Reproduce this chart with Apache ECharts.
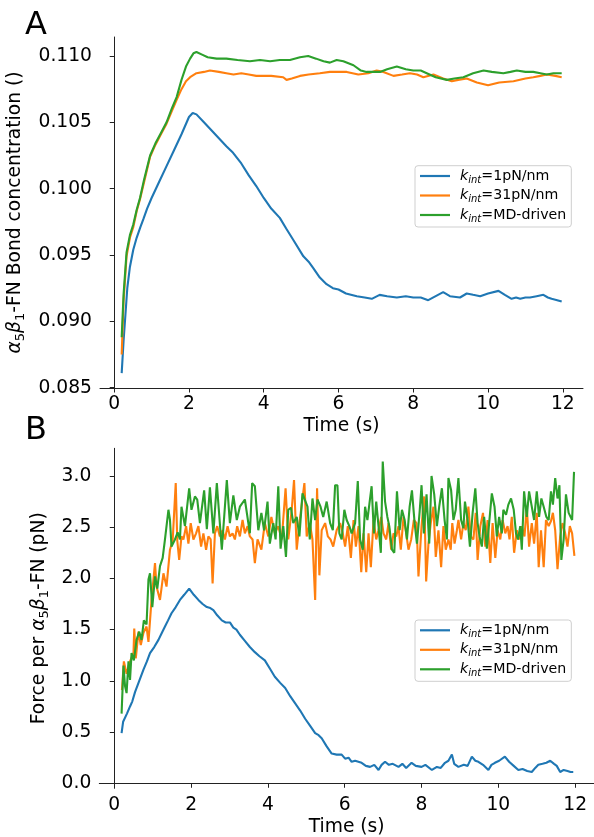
<!DOCTYPE html>
<html><head><meta charset="utf-8">
<script src="https://cdn.jsdelivr.net/npm/echarts@6/dist/echarts.min.js"></script>
<style>html,body{margin:0;padding:0;background:#fff}#c{width:594px;height:837px}</style>
</head><body><div id="c"></div>
<script>
// ---------- labels / ticks ----------
const legendSuffix = ['=1pN/nm', '=31pN/nm', '=MD-driven'];
const colors = ['#1f77b4', '#ff7f0e', '#2ca02c'];
const xTicks = [0, 2, 4, 6, 8, 10, 12];
const yTicksA = [0.085, 0.090, 0.095, 0.100, 0.105, 0.110];
const yTicksB = [0.0, 0.5, 1.0, 1.5, 2.0, 2.5, 3.0];

// ---------- Panel A: bond concentration ----------
const aBlueT = [0.20,0.25,0.30,0.35,0.42,0.51,0.60,0.70,0.78,0.88,1.00,1.20,1.40,1.60,1.80,2.00,2.10,2.20,2.40,2.60,2.80,3.00,3.18,3.40,3.60,3.80,4.00,4.20,4.43,4.60,4.80,5.06,5.20,5.33,5.50,5.68,5.85,6.00,6.20,6.49,6.70,6.89,7.10,7.30,7.56,7.80,8.00,8.20,8.40,8.60,8.80,8.98,9.25,9.43,9.60,9.79,10.00,10.28,10.45,10.63,10.75,10.86,11.00,11.12,11.30,11.48,11.60,11.70,11.85,11.97];
const aBlueV = [0.0861,0.0885,0.0905,0.0925,0.0941,0.0954,0.0963,0.0971,0.0977,0.0985,0.0993,0.1005,0.1017,0.1029,0.1041,0.1054,0.1057,0.1056,0.1050,0.1044,0.1038,0.1032,0.1027,0.1019,0.1010,0.1002,0.0993,0.0985,0.0978,0.0970,0.0961,0.0949,0.0945,0.0940,0.0933,0.0928,0.0925,0.0924,0.0921,0.0919,0.0918,0.0917,0.0920,0.0919,0.0918,0.0919,0.0918,0.0918,0.0916,0.0919,0.0922,0.0919,0.0918,0.0921,0.0920,0.0919,0.0921,0.0923,0.0920,0.0917,0.0918,0.0917,0.0918,0.0918,0.0919,0.0920,0.0918,0.0917,0.0916,0.0915];
const aOrangeT = [0.20,0.25,0.33,0.42,0.51,0.60,0.69,0.80,0.96,1.10,1.25,1.40,1.55,1.67,1.80,1.92,2.03,2.20,2.40,2.56,2.80,3.00,3.19,3.40,3.60,3.80,4.00,4.20,4.52,4.61,4.75,4.97,5.20,5.50,5.77,6.00,6.22,6.53,6.80,7.02,7.20,7.47,7.70,7.91,8.10,8.27,8.54,8.80,9.03,9.20,9.43,9.70,10.00,10.30,10.68,11.00,11.21,11.40,11.57,11.80,11.97];
const aOrangeV = [0.0875,0.0915,0.0949,0.0963,0.0971,0.0983,0.0992,0.1005,0.1024,0.1033,0.1041,0.1049,0.1059,0.1067,0.1075,0.1081,0.1084,0.1087,0.1088,0.1089,0.1088,0.1087,0.1086,0.1087,0.1086,0.1085,0.1085,0.1085,0.1084,0.1082,0.1083,0.1085,0.1086,0.1087,0.1088,0.1088,0.1088,0.1086,0.1087,0.1089,0.1088,0.1085,0.1086,0.1087,0.1086,0.1084,0.1086,0.1083,0.1081,0.1082,0.1083,0.1080,0.1078,0.1080,0.1081,0.1083,0.1084,0.1085,0.1086,0.1085,0.1084];
const aGreenT = [0.20,0.25,0.33,0.42,0.51,0.60,0.69,0.80,0.96,1.10,1.25,1.40,1.55,1.67,1.80,1.92,2.03,2.12,2.20,2.35,2.50,2.74,3.00,3.30,3.63,3.90,4.17,4.43,4.70,4.97,5.19,5.40,5.60,5.77,5.95,6.13,6.40,6.60,6.75,6.95,7.11,7.30,7.56,7.80,8.00,8.20,8.36,8.60,8.90,9.10,9.34,9.60,9.88,10.10,10.41,10.60,10.77,11.00,11.21,11.40,11.57,11.75,11.97];
const aGreenV = [0.0888,0.0920,0.0952,0.0965,0.0973,0.0984,0.0993,0.1007,0.1025,0.1034,0.1042,0.1050,0.1061,0.1069,0.1082,0.1092,0.1098,0.1102,0.1103,0.1101,0.1099,0.1098,0.1098,0.1097,0.1096,0.1097,0.1096,0.1097,0.1097,0.1099,0.1100,0.1098,0.1096,0.1095,0.1097,0.1096,0.1093,0.1089,0.1088,0.1088,0.1088,0.1090,0.1092,0.1090,0.1089,0.1089,0.1087,0.1084,0.1082,0.1083,0.1084,0.1087,0.1089,0.1088,0.1087,0.1088,0.1089,0.1088,0.1088,0.1087,0.1086,0.1087,0.1087];

// ---------- Panel B: force per bond ----------
const bBlueT = [0.19,0.23,0.27,0.33,0.41,0.47,0.54,0.65,0.76,0.85,0.93,1.04,1.15,1.24,1.32,1.40,1.49,1.60,1.71,1.82,1.95,2.07,2.19,2.30,2.41,2.50,2.58,2.68,2.80,2.90,3.01,3.10,3.18,3.27,3.40,3.53,3.66,3.78,3.92,4.05,4.18,4.32,4.45,4.58,4.71,4.84,4.97,5.10,5.23,5.32,5.40,5.53,5.66,5.79,5.92,6.01,6.10,6.18,6.27,6.44,6.55,6.66,6.77,6.88,6.96,7.05,7.15,7.25,7.40,7.50,7.60,7.74,7.85,8.00,8.10,8.27,8.40,8.50,8.61,8.70,8.79,8.85,8.96,9.10,9.20,9.31,9.40,9.48,9.60,9.74,9.82,9.91,10.02,10.17,10.28,10.40,10.52,10.63,10.75,10.87,10.96,11.04,11.15,11.25,11.35,11.45,11.52,11.61,11.70,11.80,11.88,11.95];
const bBlueV = [0.49,0.60,0.61,0.68,0.75,0.80,0.89,1.00,1.11,1.19,1.27,1.33,1.40,1.47,1.53,1.59,1.66,1.72,1.79,1.84,1.90,1.84,1.79,1.75,1.72,1.71,1.69,1.64,1.59,1.57,1.57,1.52,1.50,1.45,1.39,1.33,1.28,1.24,1.20,1.12,1.04,0.98,0.93,0.85,0.78,0.71,0.63,0.56,0.49,0.47,0.44,0.36,0.29,0.28,0.28,0.24,0.25,0.21,0.22,0.20,0.17,0.16,0.18,0.13,0.18,0.21,0.18,0.19,0.16,0.19,0.15,0.20,0.17,0.16,0.18,0.13,0.16,0.15,0.20,0.22,0.28,0.19,0.16,0.18,0.17,0.26,0.22,0.21,0.18,0.13,0.18,0.20,0.22,0.26,0.21,0.17,0.13,0.14,0.12,0.11,0.15,0.18,0.19,0.20,0.22,0.19,0.17,0.11,0.13,0.12,0.11,0.11];
const bOrangeT = [0.20,0.25,0.32,0.41,0.50,0.52,0.56,0.63,0.69,0.76,0.84,0.89,0.97,1.06,1.10,1.19,1.28,1.36,1.45,1.52,1.60,1.64,1.69,1.75,1.80,1.87,1.93,1.99,2.06,2.13,2.19,2.26,2.32,2.39,2.45,2.51,2.56,2.62,2.68,2.75,2.82,2.88,2.95,3.01,3.08,3.14,3.20,3.27,3.34,3.40,3.47,3.53,3.60,3.66,3.73,3.83,3.92,4.01,4.09,4.18,4.27,4.36,4.46,4.53,4.62,4.68,4.75,4.83,4.95,5.01,5.09,5.16,5.23,5.28,5.34,5.40,5.49,5.56,5.63,5.70,5.79,5.88,5.95,6.01,6.08,6.16,6.23,6.29,6.36,6.43,6.49,6.56,6.62,6.68,6.75,6.82,6.88,6.95,7.01,7.08,7.14,7.21,7.27,7.34,7.40,7.46,7.53,7.60,7.66,7.73,7.80,7.87,7.92,8.00,8.07,8.12,8.18,8.24,8.31,8.37,8.44,8.51,8.57,8.63,8.70,8.76,8.80,8.86,8.92,8.96,9.03,9.09,9.15,9.22,9.28,9.35,9.41,9.46,9.53,9.60,9.66,9.72,9.79,9.85,9.92,9.98,10.05,10.11,10.18,10.24,10.29,10.35,10.41,10.48,10.54,10.61,10.68,10.74,10.80,10.87,10.93,11.00,11.05,11.11,11.18,11.24,11.31,11.37,11.42,11.48,11.54,11.61,11.67,11.74,11.80,11.86,11.92,11.98];
const bOrangeV = [0.91,1.19,1.07,1.19,1.27,1.51,1.22,1.48,1.35,1.47,1.53,1.38,1.79,2.15,1.92,1.79,2.05,1.92,2.28,2.37,2.93,2.37,2.18,2.41,2.38,2.51,2.34,2.54,2.38,2.44,2.51,2.31,2.44,2.28,2.41,2.38,1.95,2.44,2.51,2.41,2.47,2.38,2.51,2.41,2.44,2.38,2.51,2.41,2.57,2.44,2.51,2.41,2.38,2.15,2.38,2.28,2.54,2.41,2.60,2.44,2.51,2.38,2.88,2.38,2.67,2.96,2.28,2.57,2.93,2.41,2.54,2.38,1.79,2.88,2.03,2.47,2.54,2.41,2.38,2.31,2.47,2.54,2.44,2.31,2.51,2.20,2.57,2.31,2.51,2.06,2.44,2.06,2.44,2.11,2.57,2.38,2.47,2.60,2.44,2.38,2.54,2.28,2.44,2.41,2.51,2.28,2.60,2.44,2.28,2.38,2.57,2.54,2.02,2.51,2.80,1.97,2.34,2.54,2.70,2.21,2.47,2.11,2.51,2.28,2.38,2.28,2.54,2.34,2.47,2.57,2.38,2.54,2.47,2.70,2.41,2.38,2.64,2.18,2.51,2.64,2.31,2.57,2.15,2.54,2.20,2.47,2.38,2.57,2.44,2.51,2.38,2.60,2.25,2.47,2.38,2.51,2.41,2.70,2.31,2.54,2.34,2.64,2.11,2.47,2.11,2.57,2.51,2.56,2.64,2.47,2.09,2.41,2.54,2.44,2.31,2.51,2.44,2.22];
const bGreenT = [0.19,0.24,0.28,0.32,0.37,0.41,0.45,0.51,0.58,0.65,0.71,0.77,0.84,0.89,0.93,0.99,1.06,1.12,1.19,1.26,1.32,1.41,1.45,1.49,1.58,1.65,1.71,1.75,1.84,1.95,2.01,2.10,2.16,2.23,2.34,2.41,2.49,2.58,2.67,2.80,2.93,3.01,3.10,3.19,3.27,3.40,3.53,3.59,3.66,3.75,3.83,3.90,3.99,4.05,4.14,4.20,4.27,4.33,4.40,4.47,4.53,4.60,4.66,4.75,4.82,4.90,4.96,5.03,5.09,5.16,5.23,5.29,5.37,5.44,5.53,5.62,5.69,5.75,5.81,5.86,5.92,5.99,6.05,6.12,6.18,6.27,6.34,6.40,6.47,6.53,6.59,6.64,6.70,6.76,6.82,6.88,6.94,6.99,7.05,7.11,7.16,7.23,7.29,7.36,7.43,7.49,7.56,7.62,7.69,7.75,7.82,7.88,7.95,8.00,8.06,8.13,8.20,8.26,8.33,8.40,8.46,8.53,8.60,8.66,8.70,8.77,8.83,8.89,8.96,9.03,9.09,9.13,9.20,9.26,9.33,9.40,9.46,9.51,9.57,9.63,9.70,9.76,9.83,9.90,9.96,10.02,10.09,10.13,10.20,10.26,10.33,10.40,10.46,10.51,10.57,10.61,10.67,10.74,10.80,10.87,10.93,11.00,11.06,11.12,11.18,11.25,11.31,11.37,11.42,11.48,11.54,11.59,11.64,11.70,11.76,11.83,11.92,11.97];
const bGreenV = [0.68,1.15,0.95,0.88,1.19,1.01,1.27,1.20,1.40,1.48,1.40,1.59,1.55,1.99,2.05,1.72,2.02,1.90,2.12,2.20,2.38,2.67,2.57,2.31,2.38,2.45,2.38,2.70,2.51,2.88,2.67,2.80,2.77,2.54,2.86,2.48,2.89,2.44,2.93,2.28,2.96,2.54,2.81,2.57,2.70,2.77,2.44,2.93,2.90,2.47,2.64,2.47,2.75,2.34,2.54,2.38,2.90,2.29,2.51,2.21,2.67,2.69,2.54,2.60,2.41,2.83,2.77,2.70,2.38,2.78,2.57,2.77,2.70,2.60,2.75,2.54,2.47,2.91,2.91,2.44,2.38,2.67,2.57,2.51,2.44,2.54,2.95,2.38,2.28,2.70,2.57,2.72,2.90,2.44,2.75,2.51,2.25,3.14,2.75,2.60,2.51,2.28,2.25,2.85,2.47,2.67,2.57,2.38,2.70,2.86,2.54,2.34,2.65,2.91,2.44,2.82,2.34,3.00,2.82,2.51,2.70,2.88,2.57,2.38,2.98,2.86,2.57,2.67,2.98,2.57,2.49,2.75,2.57,2.31,2.64,2.88,2.54,2.41,2.31,2.60,2.29,2.54,2.83,2.70,2.41,2.60,2.44,2.67,2.62,2.72,2.78,2.67,2.44,2.38,2.51,2.28,2.85,2.60,2.85,2.70,2.57,2.85,2.60,2.78,2.70,2.60,2.57,2.85,2.72,2.98,2.78,2.91,2.18,2.38,2.82,2.64,2.57,3.04];

// ---------- build ----------
const zip = (t, v) => t.map((x, i) => [x, v[i]]);
const FONT = 'DejaVu Sans';
const lineSeries = (name, color, data, idx) => ({
  name, type: 'line', xAxisIndex: idx, yAxisIndex: idx, data,
  symbol: 'none', showSymbol: false, smooth: false, animation: false,
  lineStyle: { color, width: 2.1 }, itemStyle: { color }, z: 2
});
const namesA = ['A0', 'A1', 'A2'];
const namesB = ['B0', 'B1', 'B2'];
const legendRich = {
  k: { fontFamily: FONT, fontSize: 14.2, fontStyle: 'italic', color: '#000', lineHeight: 18, padding: [0, 0, 0, 5] },
  s: { fontFamily: FONT, fontSize: 10, fontStyle: 'italic', color: '#000', lineHeight: 18, verticalAlign: 'bottom' },
  t: { fontFamily: FONT, fontSize: 14.2, color: '#000', lineHeight: 18 }
};
const legendCommon = {
  orient: 'vertical', left: 415, padding: [3.3, 5, 3, 5], itemGap: 3.5,
  itemWidth: 30, itemHeight: 2.2, icon: 'rect',
  backgroundColor: 'rgba(255,255,255,0.8)', borderColor: '#cfcfcf', borderWidth: 1, borderRadius: 3,
  textStyle: { fontFamily: FONT, fontSize: 14.2, color: '#000', rich: legendRich },
  formatter: (n) => '{k|k}{s|int}{t|' + legendSuffix[+n.slice(1)] + '}',
  selectedMode: false
};
const axisLineStyle = { show: true, lineStyle: { color: '#222', width: 1 } };
const labelStyle = { fontFamily: FONT, fontSize: 18.7, color: '#000' };
const nameRich = {
  g: { fontFamily: FONT, fontSize: 18.7, fontStyle: 'italic', color: '#000', lineHeight: 24 },
  s: { fontFamily: FONT, fontSize: 13, color: '#000', lineHeight: 24, verticalAlign: 'bottom' },
  p: { fontFamily: FONT, fontSize: 18.7, color: '#000', lineHeight: 24 }
};
const xAxisDef = (idx, min, max) => ({
  type: 'value', gridIndex: idx, min, max,
  axisLine: axisLineStyle,
  axisTick: { show: true, length: 4.5, lineStyle: { color: '#222', width: 1 }, customValues: xTicks },
  axisLabel: { ...labelStyle, margin: 7, customValues: xTicks, formatter: (v) => String(v) },
  splitLine: { show: false },
  name: 'Time (s)', nameLocation: 'middle', nameGap: 29,
  nameTextStyle: { fontFamily: FONT, fontSize: 18.7, color: '#000' }
});
const yAxisDef = (idx, min, max, ticks, dec, name, gap) => ({
  type: 'value', gridIndex: idx, min, max,
  axisLine: axisLineStyle,
  axisTick: { show: true, length: 4.5, lineStyle: { color: '#222', width: 1 }, customValues: ticks },
  axisLabel: { ...labelStyle, margin: 8, customValues: ticks, formatter: (v) => v.toFixed(dec) },
  splitLine: { show: false },
  name, nameLocation: 'middle', nameRotate: 90, nameGap: gap,
  nameTextStyle: { fontFamily: FONT, fontSize: 18.7, color: '#000', lineHeight: 24, rich: nameRich }
});

const option = {
  animation: false,
  backgroundColor: '#fff',
  grid: [
    { left: 100, top: 37, width: 483, height: 351, containLabel: false, outerBoundsMode: 'none' },
    { left: 99.3, top: 448.3, width: 494.7, height: 340, containLabel: false, outerBoundsMode: 'none' }
  ],
  xAxis: [xAxisDef(0, -0.38, 12.54), xAxisDef(1, -0.39, 12.49)],
  yAxis: [
    yAxisDef(0, 0.08498, 0.11143, yTicksA, 3, '{g|α}{s|5}{g|β}{s|1}{p|-FN Bond concentration ()}', 66),
    yAxisDef(1, -0.049, 3.27, yTicksB, 1, '{p|Force per }{g|α}{s|5}{g|β}{s|1}{p|-FN (pN)}', 45)
  ],
  legend: [
    { ...legendCommon, top: 165.7, data: namesA },
    { ...legendCommon, top: 620, data: namesB }
  ],
  graphic: [
    { type: 'text', left: 25, top: 9.5, style: { text: 'A', font: '32px "DejaVu Sans"', fill: '#000' } },
    { type: 'text', left: 25, top: 415, style: { text: 'B', font: '32px "DejaVu Sans"', fill: '#000' } }
  ],
  series: [
    lineSeries(namesA[0], colors[0], zip(aBlueT, aBlueV), 0),
    lineSeries(namesA[1], colors[1], zip(aOrangeT, aOrangeV), 0),
    lineSeries(namesA[2], colors[2], zip(aGreenT, aGreenV), 0),
    lineSeries(namesB[0], colors[0], zip(bBlueT, bBlueV), 1),
    lineSeries(namesB[1], colors[1], zip(bOrangeT, bOrangeV), 1),
    lineSeries(namesB[2], colors[2], zip(bGreenT, bGreenV), 1)
  ]
};
const chart = echarts.init(document.getElementById('c'), null, { renderer: 'canvas' });
chart.setOption(option);
</script>
</body></html>
